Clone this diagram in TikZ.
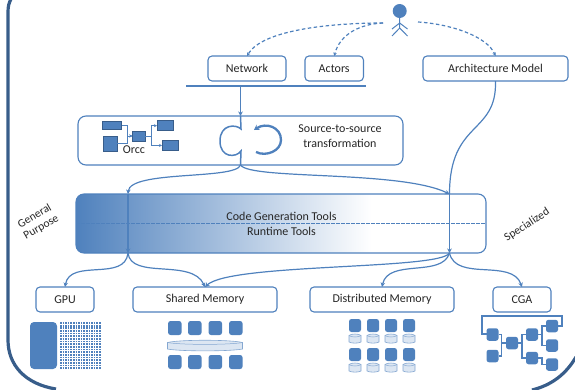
\documentclass[tikz,border=0pt]{standalone}
\usepackage{fontspec}
\setmainfont{Carlito}
\usetikzlibrary{arrows.meta,calc,shapes.geometric}
\definecolor{acc}{HTML}{4F81BD}
\definecolor{frame}{HTML}{385D8A}
\definecolor{light}{HTML}{DCE6F2}
\definecolor{ink}{HTML}{262626}
\pgfdeclarehorizontalshading{toolsgrad}{100bp}{color(0bp)=(acc); color(25bp)=(acc); color(61bp)=(white); color(100bp)=(white)}
\tikzset{
  x=1pt,y=-1pt,
  lab/.style={font=\fontsize{12}{14}\selectfont,text=ink,inner sep=0pt},
  box/.style={draw=acc,line width=1.1pt,rounded corners=4pt,fill=white,minimum height=25pt,inner sep=0pt,outer sep=0pt,font=\fontsize{12}{14}\selectfont,text=ink},
  wire/.style={draw=acc,line width=1.2pt},
  arr/.style={wire,-{Stealth[length=4.5pt,width=4.5pt]}},
  dash link/.style={draw=acc,line width=1.2pt,dash pattern=on 3.5pt off 2.5pt,-{Stealth[length=3.5pt,width=3.5pt]}},
  flowrect/.style={draw=frame,fill=acc,line width=0.7pt,inner sep=0pt,outer sep=0pt},
  chip/.style={fill=acc,draw=none,rounded corners=2pt,inner sep=0pt,outer sep=0pt},
  disk/.style={draw=acc!70,fill=light,line width=0.6pt},
  small arr/.style={draw=acc,line width=1pt,-{Stealth[length=3pt,width=3pt]}},
  cgan/.style={chip,rounded corners=2.5pt,minimum width=12pt,minimum height=12.5pt},
}
\begin{document}
\begin{tikzpicture}
\useasboundingbox (0,0) rectangle (575,389);
% outer frame
\draw[frame,line width=3.2pt] (11,-1) .. controls (9,3) and (8,6) .. (8,12) -- (8,340) .. controls (8,365) and (25,384) .. (56,389);
\draw[frame,line width=3.2pt] (576,357) .. controls (566,374) and (552,385) .. (532,390);
% actor
\fill[acc] (399.7,11) circle (7);
\coordinate (actorL) at (383,23);
\coordinate (actorR) at (418,22);
\draw[acc,line width=1pt] (399.7,18) -- (399.7,28) (392,29) -- (399.7,23) -- (407.5,29) (392,36) -- (399.7,28) -- (407.5,36);
% top boxes
\node[box,minimum width=78pt] (net) at (247,68.5) {Network};
\node[box,minimum width=58.5pt] (act) at (334.2,68.5) {Actors};
\node[box,minimum width=145pt] (arch) at (495.5,68.5) {Architecture Model};
\path[dash link] (actorL) .. controls (330,23) and (262,30) .. (net.north);
\path[dash link] (actorL) .. controls (360,24) and (340,34) .. (act.north);
\path[dash link] (actorR) .. controls (450,24) and (487,36) .. (arch.north);
% bar
\coordinate (barL) at (186,86);
\coordinate (barR) at (365.7,86);
\coordinate (barT) at (240.5,86);
\draw[acc,line width=1.8pt] (barL) -- (barR);
% Orcc box
\node[box,minimum width=325pt,minimum height=49pt,rounded corners=8pt] (orcc) at (240.5,140.5) {};
\draw[arr,line width=1.6pt] (barT) -- (orcc.north);
\draw[wire,line width=1.5pt] (orcc.north) -- (241,129) .. controls (236,124) and (220,124) .. (220,141) .. controls (220,158) and (236,158) .. (241,151) -- (orcc.south);
\draw[acc,line width=2.3pt,-{Stealth[length=5pt,width=6pt]}] (256,152) .. controls (266,157) and (281,151) .. (281,140) .. controls (281,127) and (266,122) .. (254,130);
\node[lab] (s2s) at (340,128.5) {Source-to-source};
\node[lab] (s2t) at (340,143) {transformation};
% Orcc icon
\node[flowrect,minimum width=19pt,minimum height=8pt] (o1) at (112.2,125) {};
\node[flowrect,minimum width=14pt,minimum height=15pt] (o2) at (110,143.5) {};
\node[flowrect,minimum width=12.7pt,minimum height=10pt] (o3) at (138.7,136) {};
\node[flowrect,minimum width=16.7pt,minimum height=10pt] (o4) at (165.3,125.7) {};
\node[flowrect,minimum width=16pt,minimum height=10.5pt] (o5) at (170,145.4) {};
\draw[small arr] (o1.east) -- ++(5.5,0) |- (o3.west);
\draw[small arr] (o2.east) -- ++(10,0) |- (o3.west);
\draw[small arr] (o3.east) -- ++(6,0) |- (o4.west);
\draw[small arr] (o3.east) -- ++(6,0) |- (o5.west);
\node[lab] (orcclab) at (134,150) {Orcc};
% tools box
\node[draw=acc,line width=1.1pt,rounded corners=8pt,shading=toolsgrad,minimum width=410pt,minimum height=59pt,inner sep=0pt,outer sep=0pt] (tools) at (281,223.5) {};
\draw[acc,line width=1.1pt,dash pattern=on 3.5pt off 1.5pt] (tools.west) -- (tools.east);
\node[lab] (cg) at (281.5,216.5) {Code Generation Tools};
\node[lab] (rt) at (281.5,231) {Runtime Tools};
\coordinate (tL) at (128,194);
\coordinate (tR) at (449.5,194);
\coordinate (bL) at (128,253);
\coordinate (bR) at (449.5,253);
\draw[arr] (orcc.south) .. controls (236,180) and (130,170) .. (tL);
\draw[arr] (orcc.south) .. controls (250,180) and (400,170) .. (tR);
\draw[wire] (arch.south) .. controls (497,135) and (449.5,120) .. (tR);
\draw[arr] (tL) -- (bL);
\draw[arr] (tR) -- (bR);
% lower boxes
\node[box,minimum width=58pt] (gpu) at (65,299.5) {GPU};
\node[box,minimum width=144pt] (shm) at (205,299.5) {Shared Memory};
\node[box,minimum width=144pt] (dsm) at (382,299.5) {Distributed Memory};
\node[box,minimum width=58pt] (cga) at (522,299.5) {CGA};
\draw[arr] (bL) .. controls (125,282) and (70,258) .. (gpu.north);
\draw[arr] (bL) .. controls (131,280) and (192,258) .. (shm.north);
\draw[arr] (bR) .. controls (440,270) and (230,263) .. (shm.north);
\draw[arr] (bR) .. controls (442,278) and (388,258) .. (dsm.north);
\draw[arr] (bR) .. controls (456,282) and (512,258) .. (cga.north);
% angled labels
\node[lab,rotate=30,align=center,font=\fontsize{11.5}{13}\selectfont] (gp) at (38,222) {General\\Purpose};
\node[lab,rotate=33,font=\fontsize{11.5}{13}\selectfont] (sp) at (527,225) {Specialized};
% GPU icon
\node[chip,rounded corners=4pt,minimum width=27pt,minimum height=47pt] (g0) at (43.5,345.5) {};
\foreach \yy in {0,...,17}
  \draw[acc,line width=1.7pt,dash pattern=on 1.6pt off 1pt] (60,323+2.65*\yy) -- (101,323+2.65*\yy);
% shared memory icon
\foreach \i/\xx in {1/174.8,2/194.8,3/215.3,4/235.8}{
  \node[chip,rounded corners=2.5pt,minimum width=13.5pt,minimum height=14pt] (sa\i) at (\xx,328) {};
  \node[chip,rounded corners=2.5pt,minimum width=13.5pt,minimum height=14pt] (sb\i) at (\xx,362) {};
}
\draw[disk] (167.5,342.5) .. controls (180,339.5) and (230,339.5) .. (242.5,342.5) -- (242.5,349) .. controls (230,351.5) and (180,351.5) .. (167.5,349) -- cycle;
\draw[acc!70,line width=0.5pt] (167.5,342.5) .. controls (180,345) and (230,345) .. (242.5,342.5);
% distributed memory icon
\foreach \i/\xx in {1/355,2/373,3/391,4/409}{
  \foreach \r/\yy in {a/325.5,b/354.5}{
    \node[chip,rounded corners=2.5pt,minimum width=12pt,minimum height=13pt] (d\r\i) at (\xx,\yy) {};
    \draw[disk] (\xx-6,\yy+10) .. controls (\xx-4,\yy+8) and (\xx+4,\yy+8) .. (\xx+6,\yy+10) -- (\xx+6,\yy+16.5) .. controls (\xx+4,\yy+18) and (\xx-4,\yy+18) .. (\xx-6,\yy+16.5) -- cycle;
    \draw[acc!70,line width=0.5pt] (\xx-6,\yy+10) .. controls (\xx-4,\yy+12) and (\xx+4,\yy+12) .. (\xx+6,\yy+10);
  }
}
% CGA icon
\draw[wire] (486.7,334) -- (482,334) -- (482,316) -- (562,316) -- (562,326) -- (552,326);
\node[cgan] (ca) at (492.5,334.5) {};
\node[cgan] (cb) at (492.5,356) {};
\node[cgan] (cc) at (512,343) {};
\node[cgan] (cd) at (532,334.5) {};
\node[cgan] (ce) at (532,358) {};
\node[cgan] (cf) at (552,326) {};
\node[cgan] (cg2) at (552,345.5) {};
\node[cgan] (ch) at (552,364.5) {};
\draw[wire] (ca.east) -- ++(3,0) |- (cc.west);
\draw[wire] (cb.east) -- ++(3,0) |- (cc.west);
\draw[wire] (cc.east) -- ++(4,0) |- (cd.west);
\draw[wire] (cc.east) -- ++(4,0) |- (ce.west);
\draw[wire] (cd.east) -- ++(4,0) |- (cf.west);
\draw[wire] (cd.east) -- ++(4,0) |- (cg2.west);
\draw[wire] (ce.east) -- ++(4,0) |- (ch.west);
\end{tikzpicture}
\end{document}
